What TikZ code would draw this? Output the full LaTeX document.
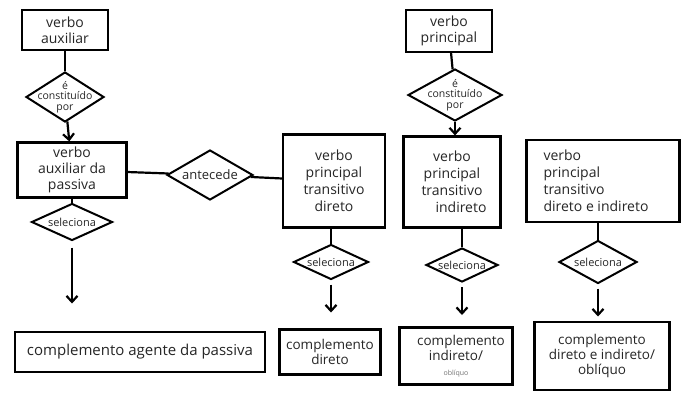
\documentclass[tikz,border=0pt]{standalone}
\usepackage{fontspec}
\setmainfont{Open Sans}
\usetikzlibrary{shapes.geometric,arrows.meta}
\begin{document}
\begin{tikzpicture}[x=1pt,y=-1pt,
  every node/.style={font=\fontsize{14}{16}\selectfont, text=black!85},
  boxn/.style={draw, line width=2.2pt, inner sep=1pt, align=center},
  dia/.style={draw, diamond, line width=2pt, inner sep=0pt},
  dtext/.style={align=center, inner sep=0pt, font=\fontsize{10.5}{10.5}\selectfont},
  link/.style={line width=2.2pt},
  arr/.style={line width=2.2pt, -{Straight Barb[length=6pt,width=11pt,line width=2.2pt]}}]
\useasboundingbox (0,0) rectangle (693,405);
\fill[white] (0,0) rectangle (693,405);
% left column
\node[boxn, minimum width=86, minimum height=40] (va) at (65,30) {verbo\\auxiliar};
\node[dia, minimum width=78, minimum height=50] (d1) at (65,97) {};
\node[dtext] (d1t) at (d1) {é\\constituído\\por};
\node[boxn, minimum width=109, minimum height=55] (vap) at (72,170) {verbo\\auxiliar da\\passiva};
\node[dia, minimum width=86, minimum height=50] (ant) at (210,175) {};
\node[dtext, font=\fontsize{13}{13}\selectfont] (antt) at (ant) {antecede};
\node[dia, minimum width=81, minimum height=37] (s0) at (72,222) {};
\node[dtext, font=\fontsize{11}{11}\selectfont] (s0t) at (s0) {seleciona};
\node[boxn, minimum width=250, minimum height=40, font=\fontsize{15}{16}\selectfont] (cap) at (140,352) {complemento agente da passiva};
% right column
\node[boxn, minimum width=86, minimum height=42] (vp) at (449,31) {verbo\\principal};
\node[dia, minimum width=94, minimum height=52] (d2) at (455,95) {};
\node[dtext] (d2t) at (d2) {é\\constituído\\por};
\node[boxn, minimum width=102, minimum height=93, font=\fontsize{14}{17}\selectfont] (ta) at (334,181) {verbo\\principal\\transitivo\\direto};
\node[boxn, minimum width=97, minimum height=91, font=\fontsize{14}{17}\selectfont] (tb) at (452,182) {verbo\\principal\\transitivo\\\hspace*{18pt}indireto};
\node[boxn, minimum width=153, minimum height=82, align=left, font=\fontsize{14}{17}\selectfont] (tc) at (603,181) {verbo\\principal\\transitivo\\direto e indireto\hspace*{14pt}};
\node[dia, minimum width=75, minimum height=35] (sa) at (331,262) {};
\node[dtext, font=\fontsize{11}{11}\selectfont] (sat) at (sa) {seleciona};
\node[dia, minimum width=72, minimum height=34] (sb) at (462,265) {};
\node[dtext, font=\fontsize{11}{11}\selectfont] (sbt) at (sb) {seleciona};
\node[dia, minimum width=78, minimum height=43] (sc) at (598,262) {};
\node[dtext, font=\fontsize{11}{11}\selectfont] (sct) at (sc) {seleciona};
\node[boxn, minimum width=101, minimum height=45, font=\fontsize{13.5}{15}\selectfont] (ca) at (330,352) {complemento\\direto};
\node[boxn, minimum width=113, minimum height=57, font=\fontsize{13.5}{15}\selectfont] (cb) at (456,356) {\hspace*{10pt}complemento\\indireto/\hspace*{30pt}\\{\fontsize{7}{8}\selectfont\color{black!55}oblíquo}};
\node[boxn, minimum width=135, minimum height=68, font=\fontsize{13.5}{15}\selectfont] (cc) at (602,356) {complemento\\direto e indireto/\\oblíquo};
% connectors
\draw[link] (va) -- (d1);
\draw[arr] (d1) -- (vap);
\draw[link] (vap) -- (ant);
\draw[link] (ant) -- (ta);
\draw[link] (vap.south -| s0) -- (s0);
\draw[arr] (s0.south) ++(0,6) coordinate (s0a) -- ++(0,56);
\draw[link] (vp) -- (d2);
\draw[arr] (d2) -- (tb.north -| d2);
\draw[link] (ta.south -| sa) -- (sa);
\draw[link] (tb.south -| sb) -- (sb);
\draw[link] (tc.south -| sc) -- (sc);
\draw[arr] (sa.south) ++(0,4) coordinate (saa) -- ++(0,28);
\draw[arr] (sb.south) ++(0,4) coordinate (sba) -- ++(0,28);
\draw[arr] (sc.south) ++(0,4) coordinate (sca) -- ++(0,28);
\end{tikzpicture}
\end{document}
